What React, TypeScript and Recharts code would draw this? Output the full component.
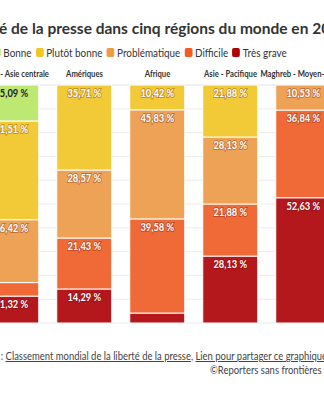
import { BarChart, Bar, XAxis, YAxis, CartesianGrid, LabelList } from "recharts";

const regions = [
  "Europe - Asie centrale",
  "Amériques",
  "Afrique",
  "Asie - Pacifique",
  "Maghreb - Moyen-Orient",
];
const bonne = [15.09, 0, 0, 0, 0];
const plutotBonne = [41.51, 35.71, 10.42, 21.88, 0];
const problematique = [26.42, 28.57, 45.83, 28.13, 10.53];
const difficile = [5.66, 21.43, 39.58, 21.88, 36.84];
const tresGrave = [11.32, 14.29, 4.17, 28.13, 52.63];
const yTicks = [0, 10, 20, 30, 40, 50, 60, 70, 80, 90, 100];

const series = [
  { key: "tresGrave", name: "Très grave", color: "#b4171c", legend: "#b00000", values: tresGrave },
  { key: "difficile", name: "Difficile", color: "#f06a38", legend: "#f25c22", values: difficile },
  { key: "problematique", name: "Problématique", color: "#eda256", legend: "#ef9a44", values: problematique },
  { key: "plutotBonne", name: "Plutôt bonne", color: "#f2ca37", legend: "#f2c624", values: plutotBonne },
  { key: "bonne", name: "Bonne", color: "#bde872", legend: "#bde872", values: bonne },
];
const legendOrder = ["Bonne", "Plutôt bonne", "Problématique", "Difficile", "Très grave"];

const data = regions.map((region, i) => {
  const row: { [k: string]: string | number } = { region };
  series.forEach((s) => {
    row[s.key] = s.values[i];
  });
  return row;
});

const FONT = "Lato, 'Noto Sans', sans-serif";

const fmt = (v: number) => v.toFixed(2).replace(".", ",") + " %";

// Lato is wider than the original font, so texts get squeezed a bit
function makeLabel(dark: boolean) {
  return (props: any) => {
    const { x, y, width, value } = props;
    if (value === undefined || value < 8) return null;
    const cx = Number(x) + Number(width) / 2;
    const cy = Number(y) + 8;
    return (
      <text
        transform={`translate(${cx},${cy}) scale(0.85,1)`}
        textAnchor="middle"
        dominantBaseline="central"
        fontFamily={FONT}
        fontWeight={700}
        fontSize={11}
        fill={dark ? "#222" : "#fff"}
        stroke={dark ? "none" : "rgba(90,0,0,0.3)"}
        strokeWidth={2}
        paintOrder="stroke"
      >
        {fmt(value)}
      </text>
    );
  };
}

const CategoryTick = (props: any) => {
  const { x, payload } = props;
  return (
    <text
      transform={`translate(${x},73) scale(0.77,1)`}
      textAnchor="middle"
      dominantBaseline="central"
      fontFamily={FONT}
      fontWeight={700}
      fontSize={10}
      fill="#333"
    >
      {payload.value}
    </text>
  );
};

export default function App() {
  return (
    <div
      style={{
        position: "absolute",
        left: 0,
        top: 0,
        width: 324,
        height: 400,
        overflow: "hidden",
        background: "#fff",
        fontFamily: FONT,
      }}
    >
      <div
        style={{
          position: "absolute",
          left: -57,
          top: 19,
          whiteSpace: "nowrap",
          fontSize: 15.5,
          fontWeight: 700,
          color: "#333",
        }}
      >
        La liberté de la presse dans cinq régions du monde en 2024
      </div>

      <div
        style={{
          position: "absolute",
          left: -7,
          top: 46,
          display: "flex",
          gap: 5,
          whiteSpace: "nowrap",
          fontSize: 11.5,
          color: "#333",
          transform: "scaleX(0.86)",
          transformOrigin: "left center",
        }}
      >
        {legendOrder.map((name) => {
          const s = series.find((d) => d.name === name)!;
          return (
            <div key={name} style={{ display: "flex", alignItems: "center" }}>
              <span
                style={{
                  display: "inline-block",
                  width: 9,
                  height: 9,
                  borderRadius: 2,
                  background: s.legend,
                  marginRight: 3,
                }}
              />
              {name}
            </div>
          );
        })}
      </div>

      <div style={{ position: "absolute", left: -25, top: 0 }}>
        <BarChart
          width={365}
          height={400}
          data={data}
          margin={{ top: 65, right: 0, bottom: 77, left: 0 }}
          barCategoryGap="12%"
        >
          <CartesianGrid vertical={false} stroke="#ececec" />
          <XAxis
            dataKey="region"
            orientation="top"
            height={20}
            axisLine={false}
            tickLine={false}
            interval={0}
            tick={<CategoryTick />}
          />
          <YAxis hide domain={[0, 100]} ticks={yTicks} />
          {series.map((s) => (
            <Bar
              key={s.key}
              dataKey={s.key}
              name={s.name}
              stackId="a"
              fill={s.color}
              stroke="#fff"
              strokeWidth={1}
              isAnimationActive={false}
            >
              <LabelList dataKey={s.key} content={makeLabel(s.key === "bonne")} />
            </Bar>
          ))}
        </BarChart>
      </div>

      <div
        style={{
          position: "absolute",
          left: -30,
          top: 350,
          whiteSpace: "nowrap",
          fontSize: 10.5,
          lineHeight: "13px",
          color: "#444",
          transform: "scaleX(0.9)",
          transformOrigin: "left center",
        }}
      >
        Source : <span style={{ textDecoration: "underline" }}>Classement mondial de la liberté de la presse</span>,{" "}
        <span style={{ textDecoration: "underline" }}>Lien pour partager ce graphique</span>
      </div>
      <div
        style={{
          position: "absolute",
          left: 210,
          top: 364,
          whiteSpace: "nowrap",
          fontSize: 10.5,
          lineHeight: "13px",
          color: "#444",
          transform: "scaleX(0.9)",
          transformOrigin: "left center",
        }}
      >
        ©Reporters sans frontières
      </div>
    </div>
  );
}
